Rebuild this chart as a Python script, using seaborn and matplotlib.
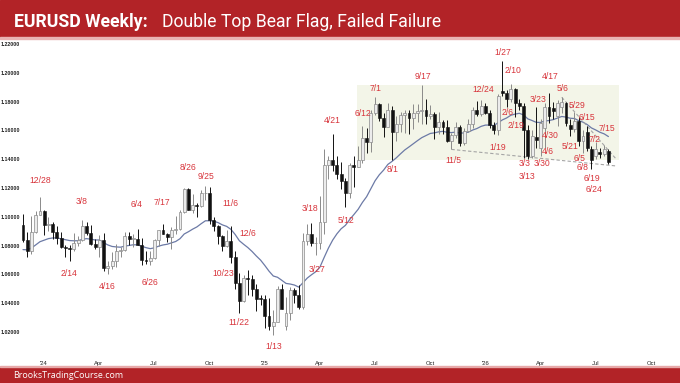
import numpy as np
import pandas as pd
import matplotlib
matplotlib.use("Agg")
import matplotlib.pyplot as plt
import matplotlib.dates as mdates
from matplotlib.patches import Rectangle
from matplotlib import font_manager
import seaborn as sns

# ---------------- data ----------------
first_week = "2023-11-27"   # Monday of first weekly bar

opens = [
    1.0940, 1.0838, 1.0762, 1.0895, 1.1013,
    # 2024
    1.1039, 1.0940, 1.0950, 1.0897, 1.0854, 1.0788, 1.0784, 1.0777, 1.0820, 1.0838,
    1.0939, 1.0890, 1.0808, 1.0790, 1.0837, 1.0642, 1.0656, 1.0693, 1.0760, 1.0771,
    1.0869, 1.0847, 1.0848, 1.0801, 1.0703, 1.0692, 1.0713, 1.0840, 1.0907, 1.0882,
    1.0857, 1.0911, 1.0918, 1.1030, 1.1192, 1.1048, 1.1085, 1.1077, 1.1163, 1.1164,
    1.0975, 1.0937, 1.0867, 1.0797, 1.0835, 1.0719, 1.0541, 1.0418, 1.0577, 1.0568,
    1.0500, 1.0430, 1.0429,
    # 2025
    1.0308, 1.0244, 1.0271, 1.0497, 1.0240, 1.0329, 1.0492, 1.0459, 1.0375, 1.0833,
    1.0880, 1.0816, 1.0818, 1.0961, 1.1358, 1.1395, 1.1363, 1.1298, 1.1252, 1.1163,
    1.1362, 1.1348, 1.1397, 1.1549, 1.1522, 1.1719, 1.1780, 1.1688, 1.1627, 1.1740,
    1.1587, 1.1643, 1.1705, 1.1718, 1.1685, 1.1718, 1.1734, 1.1745, 1.1703, 1.1716,
    1.1624, 1.1657, 1.1625, 1.1524, 1.1565, 1.1621, 1.1513, 1.1597, 1.1641, 1.1740,
    1.1712, 1.1772,
    # 2026
    1.1720, 1.1640, 1.1600, 1.1872, 1.1858, 1.1815, 1.1885, 1.1790, 1.1770, 1.1600,
    1.1420, 1.1555, 1.1480, 1.1620, 1.1760, 1.1755, 1.1700, 1.1760, 1.1790, 1.1640,
    1.1610, 1.1665, 1.1525, 1.1590, 1.1470, 1.1420, 1.1450, 1.1435, 1.1455,
]
highs = [
    1.1017, 1.0895, 1.1009, 1.1040, 1.1139,
    # 2024
    1.1046, 1.0998, 1.0967, 1.0933, 1.0895, 1.0806, 1.0806, 1.0888, 1.0865, 1.0981,
    1.0964, 1.0942, 1.0843, 1.0876, 1.0885, 1.0690, 1.0754, 1.0812, 1.0791, 1.0895,
    1.0895, 1.0882, 1.0916, 1.0852, 1.0761, 1.0762, 1.0845, 1.0910, 1.0948, 1.0889,
    1.0926, 1.1009, 1.1047, 1.1200, 1.1202, 1.1155, 1.1094, 1.1189, 1.1214, 1.1209,
    1.0996, 1.0941, 1.0872, 1.0905, 1.0937, 1.0761, 1.0609, 1.0596, 1.0630, 1.0595,
    1.0530, 1.0456, 1.0458,
    # 2025
    1.0437, 1.0353, 1.0522, 1.0533, 1.0442, 1.0513, 1.0505, 1.0528, 1.0888, 1.0947,
    1.0955, 1.0859, 1.1147, 1.1474, 1.1420, 1.1573, 1.1425, 1.1380, 1.1266, 1.1375,
    1.1419, 1.1495, 1.1631, 1.1615, 1.1743, 1.1830, 1.1788, 1.1721, 1.1789, 1.1770,
    1.1699, 1.1730, 1.1742, 1.1742, 1.1780, 1.1781, 1.1918, 1.1819, 1.1779, 1.1728,
    1.1728, 1.1669, 1.1669, 1.1580, 1.1655, 1.1637, 1.1614, 1.1682, 1.1763, 1.1804,
    1.1808, 1.1790,
    # 2026
    1.1745, 1.1660, 1.1850, 1.2084, 1.1880, 1.1925, 1.1895, 1.1815, 1.1790, 1.1640,
    1.1600, 1.1765, 1.1680, 1.1790, 1.1860, 1.1800, 1.1810, 1.1830, 1.1800, 1.1680,
    1.1725, 1.1690, 1.1600, 1.1630, 1.1490, 1.1520, 1.1480, 1.1500, 1.1470,
]
lows = [
    1.0828, 1.0723, 1.0743, 1.0888, 1.1010,
    # 2024
    1.0877, 1.0900, 1.0844, 1.0813, 1.0780, 1.0723, 1.0695, 1.0761, 1.0796, 1.0835,
    1.0874, 1.0803, 1.0773, 1.0724, 1.0622, 1.0601, 1.0637, 1.0650, 1.0724, 1.0765,
    1.0805, 1.0788, 1.0801, 1.0668, 1.0672, 1.0666, 1.0710, 1.0800, 1.0880, 1.0825,
    1.0777, 1.0882, 1.0906, 1.1027, 1.1045, 1.1026, 1.1002, 1.1069, 1.1120, 1.0952,
    1.0900, 1.0811, 1.0761, 1.0788, 1.0682, 1.0496, 1.0333, 1.0410, 1.0460, 1.0452,
    1.0343, 1.0387, 1.0226,
    # 2025
    1.0215, 1.0178, 1.0266, 1.0358, 1.0211, 1.0286, 1.0401, 1.0360, 1.0360, 1.0806,
    1.0797, 1.0733, 1.0778, 1.0881, 1.1264, 1.1320, 1.1265, 1.1194, 1.1065, 1.1128,
    1.1209, 1.1345, 1.1373, 1.1445, 1.1452, 1.1710, 1.1662, 1.1556, 1.1623, 1.1392,
    1.1528, 1.1589, 1.1584, 1.1574, 1.1608, 1.1659, 1.1646, 1.1645, 1.1680, 1.1542,
    1.1576, 1.1574, 1.1520, 1.1468, 1.1550, 1.1491, 1.1502, 1.1590, 1.1615, 1.1700,
    1.1700, 1.1717,
    # 2026
    1.1620, 1.1575, 1.1570, 1.1840, 1.1760, 1.1800, 1.1690, 1.1740, 1.1410, 1.1400,
    1.1410, 1.1480, 1.1420, 1.1480, 1.1650, 1.1680, 1.1630, 1.1720, 1.1630, 1.1560,
    1.1590, 1.1490, 1.1440, 1.1460, 1.1335, 1.1400, 1.1410, 1.1420, 1.1365,
]
closes = [
    1.0838, 1.0762, 1.0895, 1.1013, 1.1039,
    # 2024
    1.0940, 1.0950, 1.0897, 1.0854, 1.0788, 1.0784, 1.0777, 1.0820, 1.0838, 1.0939,
    1.0890, 1.0808, 1.0790, 1.0837, 1.0642, 1.0656, 1.0693, 1.0760, 1.0771, 1.0869,
    1.0847, 1.0848, 1.0801, 1.0703, 1.0692, 1.0713, 1.0840, 1.0907, 1.0882, 1.0857,
    1.0911, 1.0918, 1.1030, 1.1192, 1.1048, 1.1085, 1.1077, 1.1163, 1.1164, 1.0975,
    1.0937, 1.0867, 1.0797, 1.0835, 1.0719, 1.0541, 1.0418, 1.0577, 1.0568, 1.0500,
    1.0430, 1.0429, 1.0308,
    # 2025
    1.0244, 1.0271, 1.0497, 1.0362, 1.0329, 1.0492, 1.0459, 1.0375, 1.0833, 1.0880,
    1.0816, 1.0818, 1.0961, 1.1358, 1.1395, 1.1363, 1.1298, 1.1252, 1.1163, 1.1362,
    1.1348, 1.1397, 1.1549, 1.1522, 1.1719, 1.1780, 1.1688, 1.1627, 1.1740, 1.1587,
    1.1643, 1.1705, 1.1718, 1.1685, 1.1718, 1.1734, 1.1745, 1.1703, 1.1716, 1.1624,
    1.1657, 1.1625, 1.1524, 1.1565, 1.1621, 1.1513, 1.1597, 1.1641, 1.1740, 1.1712,
    1.1772, 1.1720,
    # 2026
    1.1640, 1.1600, 1.1840, 1.1858, 1.1815, 1.1885, 1.1790, 1.1770, 1.1600, 1.1420,
    1.1560, 1.1535, 1.1650, 1.1760, 1.1700, 1.1735, 1.1790, 1.1800, 1.1650, 1.1610,
    1.1665, 1.1525, 1.1560, 1.1480, 1.1395, 1.1470, 1.1435, 1.1470, 1.1380,
]
ma_seed = 1.0765   # 20-week EMA value before the first bar
ma_span = 20

label_texts = ["12/28", "3/8", "6/4", "7/17", "8/26", "9/25", "11/6", "2/14", "4/16",
               "6/26", "10/23", "12/6", "11/22", "1/13", "3/18", "3/27", "5/12", "4/21",
               "6/12", "7/1", "8/1", "9/17", "11/5", "12/24", "1/19", "1/27", "2/10",
               "2/6", "2/19", "3/3", "3/13", "3/23", "3/30", "4/6", "4/17", "4/30",
               "5/6", "5/21", "5/29", "6/5", "6/8", "6/15", "6/19", "6/24", "7/2", "7/15"]
label_dates = ["2023-12-27", "2024-03-05", "2024-06-04", "2024-07-15", "2024-08-27",
               "2024-09-26", "2024-11-06", "2024-02-13", "2024-04-16", "2024-06-26",
               "2024-10-24", "2024-12-04", "2024-11-19", "2025-01-16", "2025-03-17",
               "2025-03-28", "2025-05-15", "2025-04-22", "2025-06-12", "2025-07-02",
               "2025-07-30", "2025-09-19", "2025-11-08", "2025-12-27", "2026-01-21",
               "2026-01-29", "2026-02-15", "2026-02-06", "2026-02-20", "2026-03-05",
               "2026-03-10", "2026-03-28", "2026-04-03", "2026-04-13", "2026-04-17",
               "2026-04-17", "2026-05-08", "2026-05-20", "2026-05-31", "2026-06-05",
               "2026-06-10", "2026-06-17", "2026-06-25", "2026-06-28", "2026-06-30",
               "2026-07-20"]
label_prices = [1.1249, 1.1103, 1.1082, 1.1096, 1.1339, 1.1283, 1.1089, 1.0603, 1.0513,
                1.0547, 1.0603, 1.0881, 1.0269, 1.0096, 1.1061, 1.0631, 1.0971, 1.1672,
                1.1714, 1.1894, 1.1325, 1.1971, 1.1394, 1.1881, 1.1478, 1.2144, 1.2019,
                1.1721, 1.1631, 1.1367, 1.1283, 1.1818, 1.1367, 1.1450, 1.1971, 1.1568,
                1.1894, 1.1485, 1.1776, 1.1408, 1.1339, 1.1693, 1.1269, 1.1193, 1.1540,
                1.1610]

range_dates = ["2025-06-02", "2026-08-09"]
range_prices = [1.1392, 1.1918]
support_dates = ["2025-11-05", "2026-08-04"]
support_prices = [1.1468, 1.1353]
trend_dates = ["2026-05-06", "2026-08-04"]
trend_prices = [1.1830, 1.1400]

ytick_vals = [1.02, 1.04, 1.06, 1.08, 1.10, 1.12, 1.14, 1.16, 1.18, 1.20, 1.22]
xtick_dates = ["2024-01-01", "2024-04-01", "2024-07-01", "2024-10-01",
               "2025-01-01", "2025-04-01", "2025-07-01", "2025-10-01",
               "2026-01-01", "2026-04-01", "2026-07-01", "2026-10-01"]
xtick_labels = ["'24", "Apr", "Jul", "Oct", "'25", "Apr", "Jul", "Oct",
                "'26", "Apr", "Jul", "Oct"]

title_bold = "EURUSD Weekly:"
title_rest = "Double Top Bear Flag, Failed Failure"
footer = "BrooksTradingCourse.com"

# ---------------- figure ----------------
sns.set_style("white")
W, H = 680, 383
fig = plt.figure(figsize=(W / 100, H / 100), dpi=100)
fig.patch.set_facecolor("white")

RED = "#b22327"
LABEL_RED = "#d8353c"

# banners
fig.patches.append(Rectangle((0, 1 - 37 / H), 1, 37 / H, transform=fig.transFigure,
                             color=RED, zorder=0))
fig.patches.append(Rectangle((0, 1 - 39 / H), 1, 2 / H, transform=fig.transFigure,
                             color="#e9b3b3", zorder=0))
fig.patches.append(Rectangle((0, 0), 1, 16 / H, transform=fig.transFigure,
                             color=RED, zorder=0))
fig.patches.append(Rectangle((0, 16 / H), 1, 1.5 / H, transform=fig.transFigure,
                             color="#e7a9a9", zorder=0))

ax_left_px, ax_right_px = 22, 680
ax_top_px, ax_bot_px = 40, 358
ax = fig.add_axes([ax_left_px / W, 1 - ax_bot_px / H,
                   (ax_right_px - ax_left_px) / W, (ax_bot_px - ax_top_px) / H])
ax.set_facecolor("white")

dates = pd.date_range(first_week, periods=len(closes), freq="W-MON")
x = mdates.date2num(dates) + 2.0
o = np.array(opens); h = np.array(highs); l = np.array(lows); c = np.array(closes)

base = mdates.date2num(pd.Timestamp("2024-01-01"))
ppd = 443 / 731.0          # pixels per day
ax.set_xlim(base - 21 / ppd, base + 637 / ppd)
ax.set_ylim(1.22 - 314 / 1440, 1.22 + 4 / 1440)

# trading range box
rd = mdates.date2num(pd.to_datetime(range_dates))
ax.add_patch(Rectangle((rd[0], range_prices[0]), rd[1] - rd[0],
                       range_prices[1] - range_prices[0],
                       facecolor="#f3f5e8", edgecolor="none", zorder=0))

# moving average (20 EMA)
alpha = 2 / (ma_span + 1)
ema = []
prev = ma_seed
for v in closes:
    prev = prev + alpha * (v - prev)
    ema.append(prev)
sns.lineplot(x=x, y=ema, ax=ax, color="#6c7aa6", linewidth=0.9, zorder=2)

# candles
bull = c >= o
body_w = 2.9 / ppd
ax.vlines(x[bull], l[bull], h[bull], color="#8a8a8a", linewidth=0.7, zorder=3)
ax.vlines(x[~bull], l[~bull], h[~bull], color="#111111", linewidth=0.7, zorder=3)
ax.bar(x[bull], np.maximum(c[bull] - o[bull], 0.0004), bottom=o[bull], width=body_w,
       color="#ececec", edgecolor="#8a8a8a", linewidth=0.5, zorder=4)
ax.bar(x[~bull], np.maximum(o[~bull] - c[~bull], 0.0004), bottom=c[~bull], width=body_w,
       color="#111111", edgecolor="#111111", linewidth=0.4, zorder=4)

# dashed lines
sd = mdates.date2num(pd.to_datetime(support_dates))
ax.plot(sd, support_prices, color="#a5a5a5", linewidth=0.8, dashes=(3, 2), zorder=2)
td = mdates.date2num(pd.to_datetime(trend_dates))
ax.plot(td, trend_prices, color="#a5a5a5", linewidth=0.8, dashes=(3, 2), zorder=2)

# labels
for t, d, p in zip(label_texts, label_dates, label_prices):
    ax.text(mdates.date2num(pd.Timestamp(d)), p, t, color=LABEL_RED, fontsize=6.2,
            family="Liberation Sans", ha="center", va="center", zorder=5)

# axes styling
for s in ax.spines.values():
    s.set_visible(False)
ax.set_yticks(ytick_vals)
ax.set_yticklabels([f"{v:.5f}" for v in ytick_vals], fontsize=3.8,
                   family="Liberation Sans", color="#222222", fontweight="bold")
ax.set_xticks(mdates.date2num(pd.to_datetime(xtick_dates)))
ax.set_xticklabels(xtick_labels, fontsize=4.2, family="Liberation Sans",
                   color="#222222")
ax.tick_params(axis="both", length=0)
ax.tick_params(axis="y", pad=1.5)
ax.tick_params(axis="x", pad=2.5)
ax.grid(False)
ax.set_xlabel("")
ax.set_ylabel("")

# title & footer (fit widths)
fig.canvas.draw()
r = fig.canvas.get_renderer()


def fit(t, target):
    w = t.get_window_extent(r).width
    t.set_fontsize(t.get_fontsize() * target / w)


title_font = "Liberation Sans"
for cand in ["Liberation Sans Narrow", "Arial Narrow", "Roboto"]:
    try:
        font_manager.findfont(cand, fallback_to_default=False)
        title_font = cand
        break
    except Exception:
        pass

t1 = fig.text(14 / W, 1 - 27 / H, title_bold, color="white", fontsize=15,
              fontweight="bold", family=title_font, ha="left", va="baseline")
t2 = fig.text(162 / W, 1 - 27 / H, title_rest, color="white", fontsize=15,
              family=title_font, ha="left", va="baseline")
t3 = fig.text(13 / W, 4.5 / H, footer, color="white", fontsize=8,
              family="Open Sans", ha="left", va="baseline")
fit(t1, 134)
fit(t2, 281)
fit(t3, 110)

fig.savefig("out.png", dpi=100, facecolor="white")
